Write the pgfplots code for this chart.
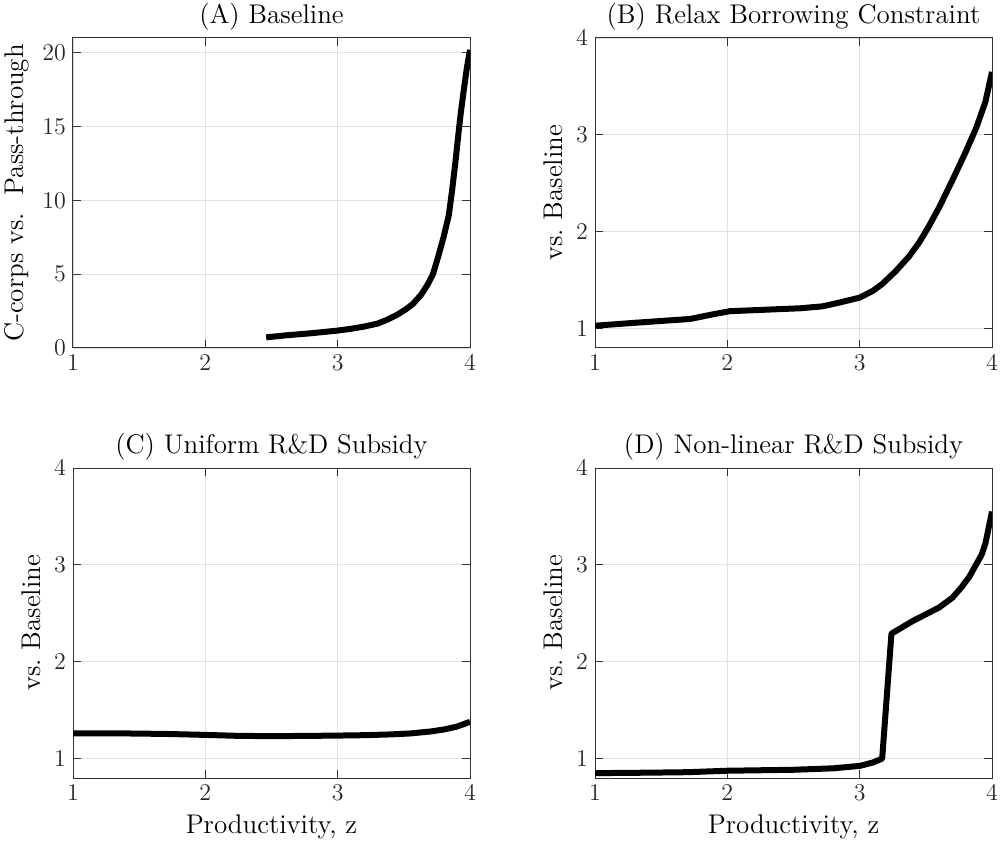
\documentclass[border=0pt]{standalone}
\usepackage{pgfplots}
\pgfplotsset{compat=1.18}

\pgfplotsset{
  panel/.style={
    scale only axis, anchor=north west,
    width=198.5pt, height=155pt,
    xmin=1, xmax=4, xtick={1,2,3,4},
    grid=major,
    grid style={line width=0.4pt, draw=black!12},
    axis line style={line width=0.5pt, draw=black!80},
    tick style={line width=0.5pt, draw=black!80},
    tick align=inside, major tick length=4pt,
    ticklabel style={font=\fontsize{12.5}{14}\selectfont, text=black!85},
    title style={font=\fontsize{13.5}{15}\selectfont, yshift=-5.5pt},
    label style={font=\fontsize{13.5}{15}\selectfont},
    every axis plot post/.append style={line width=3pt, black, line join=round, mark=none},
  },
  ratio/.style={ymin=0.8, ymax=4, ytick={1,2,3,4}, ylabel={vs.\ Baseline}},
}

\begin{document}
\begin{tikzpicture}
\useasboundingbox (0,0) rectangle (500pt,-422pt);

\begin{axis}[panel, at={(36.5pt,-19pt)},
  ymin=0, ymax=21, ytick={0,5,10,15,20},
  title={(A) Baseline}, ylabel={C-corps vs.\ \ Pass-through}]
\addplot coordinates {
  (2.46,0.72) (2.6,0.85) (2.8,1.0) (3.0,1.18) (3.1,1.3) (3.2,1.45)
  (3.3,1.65) (3.37,1.9) (3.45,2.25) (3.52,2.65) (3.57,3.0) (3.63,3.6)
  (3.68,4.3) (3.72,5.0) (3.76,6.2) (3.8,7.5) (3.84,9.0) (3.865,10.7)
  (3.89,12.6) (3.91,14.3) (3.93,15.9) (3.955,17.6) (3.975,18.9) (4.0,20.2)
};
\end{axis}

\begin{axis}[panel, ratio, at={(297.5pt,-19pt)},
  title={(B) Relax Borrowing Constraint}]
\addplot coordinates {
  (1.0,1.03) (1.3,1.06) (1.72,1.10) (1.9,1.15) (2.02,1.18) (2.2,1.19)
  (2.37,1.20) (2.55,1.21) (2.72,1.23) (2.85,1.27) (3.0,1.32) (3.1,1.39)
  (3.17,1.46) (3.27,1.59) (3.37,1.74) (3.45,1.89) (3.52,2.05) (3.6,2.25)
  (3.7,2.53) (3.8,2.82) (3.88,3.07) (3.95,3.34) (4.0,3.65)
};
\end{axis}

\begin{axis}[panel, ratio, at={(36.5pt,-234pt)},
  title={(C) Uniform R\&D Subsidy}, xlabel={Productivity, z}]
\addplot coordinates {
  (1.0,1.26) (1.4,1.26) (1.7,1.255) (2.0,1.245) (2.25,1.235) (2.5,1.232)
  (2.8,1.235) (3.0,1.238) (3.2,1.242) (3.4,1.25) (3.55,1.26) (3.7,1.28)
  (3.8,1.30) (3.9,1.33) (4.0,1.38)
};
\end{axis}

\begin{axis}[panel, ratio, at={(297.5pt,-234pt)},
  title={(D) Non-linear R\&D Subsidy}, xlabel={Productivity, z}]
\addplot coordinates {
  (1.0,0.85) (1.4,0.855) (1.7,0.86) (2.0,0.875) (2.5,0.885) (2.8,0.9)
  (3.0,0.925) (3.1,0.96) (3.17,1.0) (3.24,2.29) (3.4,2.42) (3.6,2.56)
  (3.7,2.66) (3.77,2.77) (3.83,2.88) (3.87,2.98) (3.92,3.1) (3.95,3.22)
  (4.0,3.55)
};
\end{axis}
\end{tikzpicture}
\end{document}
